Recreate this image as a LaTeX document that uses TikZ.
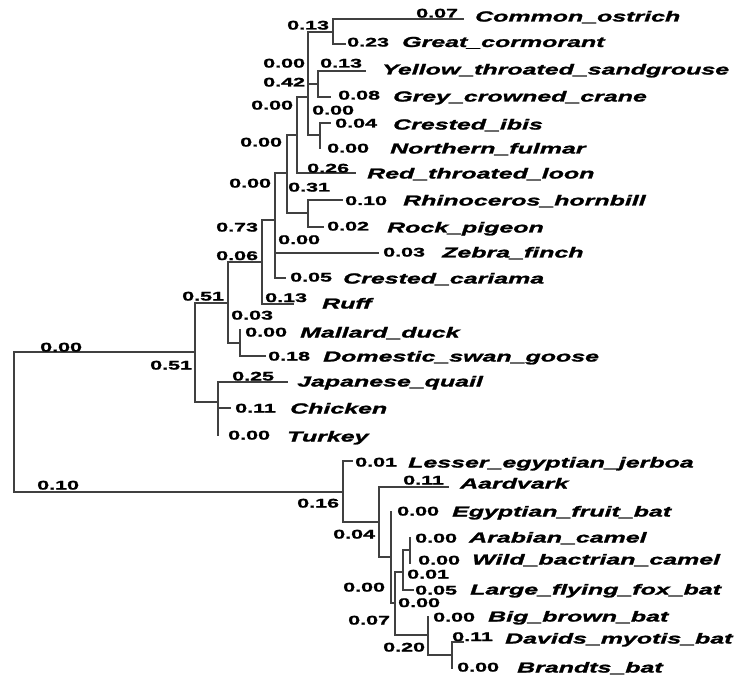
\documentclass[tikz,border=0pt]{standalone}
\usepackage{fontspec}
\newfontfamily\treefont[FakeStretch=1.72, FakeBold=1.6]{Liberation Sans}
\newcommand\numfnt{\treefont\bfseries\fontsize{12.5}{14}\selectfont}
\newcommand\leaffnt{\treefont\bfseries\itshape\fontsize{14.5}{16}\selectfont}
\tikzset{
  num/.style={anchor=base west, inner sep=0pt, font=\numfnt},
  leaf/.style={anchor=base west, inner sep=0pt, font=\leaffnt},
  branch/.style={draw=black!75, line width=1.1pt, line cap=rect},
}
\begin{document}
\begin{tikzpicture}[x=1pt,y=-1pt]
\useasboundingbox (0,0) rectangle (739,679);
% ---------- internal nodes ----------
\coordinate (R) at (14,422);
\coordinate (B1) at (195,352);
\coordinate (B2) at (228,303);
\coordinate (B3) at (218,402);
\coordinate (B4) at (262,262);
\coordinate (B5) at (240,343);
\coordinate (B6) at (275,220);
\coordinate (B7) at (287,173);
\coordinate (B8) at (297,135);
\coordinate (B9) at (308,213);
\coordinate (B10) at (308,97);
\coordinate (B11) at (333,32);
\coordinate (B12) at (318,84);
\coordinate (B13) at (320,135);
\coordinate (M1) at (343,492);
\coordinate (M2) at (379,522);
\coordinate (M3) at (391,557);
\coordinate (M4) at (395,603);
\coordinate (M5) at (403,572);
\coordinate (M6) at (428,635);
\coordinate (M7) at (410,550);
\coordinate (M8) at (452,655);
% ---------- leaf ends ----------
\coordinate (lOst) at (463,19);
\coordinate (lCor) at (345,44);
\coordinate (lSan) at (365,71);
\coordinate (lCra) at (330,97);
\coordinate (lIbi) at (330,123);
\coordinate (lFul) at (320,148);
\coordinate (lLoo) at (355,173);
\coordinate (lRhi) at (342,200);
\coordinate (lPig) at (323,227);
\coordinate (lZeb) at (378,253);
\coordinate (lCar) at (285,278);
\coordinate (lRuf) at (293,304);
\coordinate (lMal) at (240,330);
\coordinate (lGoo) at (265,356);
\coordinate (lQua) at (287,382);
\coordinate (lChi) at (230,408);
\coordinate (lTur) at (218,435);
\coordinate (lJer) at (352,461);
\coordinate (lAar) at (448,487);
\coordinate (lEgy) at (391,512);
\coordinate (lAra) at (410,538);
\coordinate (lWil) at (410,563);
\coordinate (lFox) at (413,590);
\coordinate (lBig) at (428,617);
\coordinate (lDav) at (463,642);
\coordinate (lBra) at (452,668);
% ---------- branches ----------
\draw[branch] (R) |- (B1);
\draw[branch] (R) |- (M1);
\draw[branch] (B1) |- (B2);
\draw[branch] (B1) |- (B3);
\draw[branch] (B3) |- (lQua);
\draw[branch] (B3) |- (lChi);
\draw[branch] (B3) |- (lTur);
\draw[branch] (B2) |- (B4);
\draw[branch] (B2) |- (B5);
\draw[branch] (B5) |- (lMal);
\draw[branch] (B5) |- (lGoo);
\draw[branch] (B4) |- (lRuf);
\draw[branch] (B4) |- (B6);
\draw[branch] (B6) |- (B7);
\draw[branch] (B6) |- (lZeb);
\draw[branch] (B6) |- (lCar);
\draw[branch] (B7) |- (B8);
\draw[branch] (B7) |- (B9);
\draw[branch] (B9) |- (lRhi);
\draw[branch] (B9) |- (lPig);
\draw[branch] (B8) |- (B10);
\draw[branch] (B8) |- (lLoo);
\draw[branch] (B10) |- (B11);
\draw[branch] (B10) |- (B12);
\draw[branch] (B10) |- (B13);
\draw[branch] (B11) |- (lOst);
\draw[branch] (B11) |- (lCor);
\draw[branch] (B12) |- (lSan);
\draw[branch] (B12) |- (lCra);
\draw[branch] (B13) |- (lIbi);
\draw[branch] (B13) |- (lFul);
\draw[branch] (M1) |- (lJer);
\draw[branch] (M1) |- (M2);
\draw[branch] (M2) |- (lAar);
\draw[branch] (M2) |- (M3);
\draw[branch] (M3) |- (lEgy);
\draw[branch] (M3) |- (M4);
\draw[branch] (M4) |- (M5);
\draw[branch] (M4) |- (M6);
\draw[branch] (M5) |- (M7);
\draw[branch] (M5) |- (lFox);
\draw[branch] (M7) |- (lAra);
\draw[branch] (M7) |- (lWil);
\draw[branch] (M6) |- (lBig);
\draw[branch] (M6) |- (M8);
\draw[branch] (M8) |- (lDav);
\draw[branch] (M8) |- (lBra);
% ---------- leaf labels ----------
\node[leaf] (tOst) at (475,21.5) {Common\_ostrich};
\node[leaf] (tCor) at (402,47) {Great\_cormorant};
\node[leaf] (tSan) at (382,74.5) {Yellow\_throated\_sandgrouse};
\node[leaf] (tCra) at (393,101.5) {Grey\_crowned\_crane};
\node[leaf] (tIbi) at (393,129.5) {Crested\_ibis};
\node[leaf] (tFul) at (390,153.5) {Northern\_fulmar};
\node[leaf] (tLoo) at (367,178.5) {Red\_throated\_loon};
\node[leaf] (tRhi) at (403,205.5) {Rhinoceros\_hornbill};
\node[leaf] (tPig) at (387,232.5) {Rock\_pigeon};
\node[leaf] (tZeb) at (442,257.5) {Zebra\_finch};
\node[leaf] (tCar) at (343,283.5) {Crested\_cariama};
\node[leaf] (tRuf) at (322,308.5) {Ruff};
\node[leaf] (tMal) at (300,337.5) {Mallard\_duck};
\node[leaf] (tGoo) at (323,361.5) {Domestic\_swan\_goose};
\node[leaf] (tQua) at (297,386.5) {Japanese\_quail};
\node[leaf] (tChi) at (290,413.5) {Chicken};
\node[leaf] (tTur) at (287,441.5) {Turkey};
\node[leaf] (tJer) at (408,467.5) {Lesser\_egyptian\_jerboa};
\node[leaf] (tAar) at (460,488.5) {Aardvark};
\node[leaf] (tEgy) at (452,516.5) {Egyptian\_fruit\_bat};
\node[leaf] (tAra) at (469,542.5) {Arabian\_camel};
\node[leaf] (tWil) at (472,564.5) {Wild\_bactrian\_camel};
\node[leaf] (tFox) at (470,594.5) {Large\_flying\_fox\_bat};
\node[leaf] (tBig) at (488,621.5) {Big\_brown\_bat};
\node[leaf] (tDav) at (505,643.5) {Davids\_myotis\_bat};
\node[leaf] (tBra) at (517,672.5) {Brandts\_bat};
% ---------- branch length labels ----------
\node[num] (n1) at (416,17.5) {0.07};
\node[num] (n2) at (287,29.5) {0.13};
\node[num] (n3) at (347,46.5) {0.23};
\node[num] (n4) at (263,67.5) {0.00};
\node[num] (n5) at (320,67.5) {0.13};
\node[num] (n6) at (263,86.5) {0.42};
\node[num] (n7) at (338,99.5) {0.08};
\node[num] (n8) at (251,109.5) {0.00};
\node[num] (n9) at (312,114.5) {0.00};
\node[num] (n10) at (335,127.5) {0.04};
\node[num] (n11) at (240,146.5) {0.00};
\node[num] (n12) at (327,152.5) {0.00};
\node[num] (n13) at (307,172.5) {0.26};
\node[num] (n14) at (229,187.5) {0.00};
\node[num] (n15) at (288,191.5) {0.31};
\node[num] (n16) at (345,205) {0.10};
\node[num] (n17) at (327,230.5) {0.02};
\node[num] (n18) at (216,231.5) {0.73};
\node[num] (n19) at (278,244) {0.00};
\node[num] (n20) at (383,256.5) {0.03};
\node[num] (n21) at (216,260) {0.06};
\node[num] (n22) at (290,281.5) {0.05};
\node[num] (n23) at (182,300.5) {0.51};
\node[num] (n24) at (265,302) {0.13};
\node[num] (n25) at (231,319.5) {0.03};
\node[num] (n26) at (245,336.5) {0.00};
\node[num] (n27) at (268,360.5) {0.18};
\node[num] (n28) at (40,351.5) {0.00};
\node[num] (n29) at (150,369.5) {0.51};
\node[num] (n30) at (232,380.5) {0.25};
\node[num] (n31) at (235,412.5) {0.11};
\node[num] (n32) at (228,439.5) {0.00};
\node[num] (n33) at (37,489.5) {0.10};
\node[num] (n34) at (355,466.5) {0.01};
\node[num] (n35) at (403,484.5) {0.11};
\node[num] (n36) at (297,507.5) {0.16};
\node[num] (n37) at (333,538.5) {0.04};
\node[num] (n38) at (397,515.5) {0.00};
\node[num] (n39) at (415,542.5) {0.00};
\node[num] (n40) at (418,564.5) {0.00};
\node[num] (n41) at (407,578.5) {0.01};
\node[num] (n42) at (415,594.5) {0.05};
\node[num] (n43) at (343,591.5) {0.00};
\node[num] (n44) at (398,607) {0.00};
\node[num] (n45) at (348,624.5) {0.07};
\node[num] (n46) at (433,621.5) {0.00};
\node[num] (n47) at (452,641) {0.11};
\node[num] (n48) at (383,651.5) {0.20};
\node[num] (n49) at (457,671.5) {0.00};
\end{tikzpicture}
\end{document}
